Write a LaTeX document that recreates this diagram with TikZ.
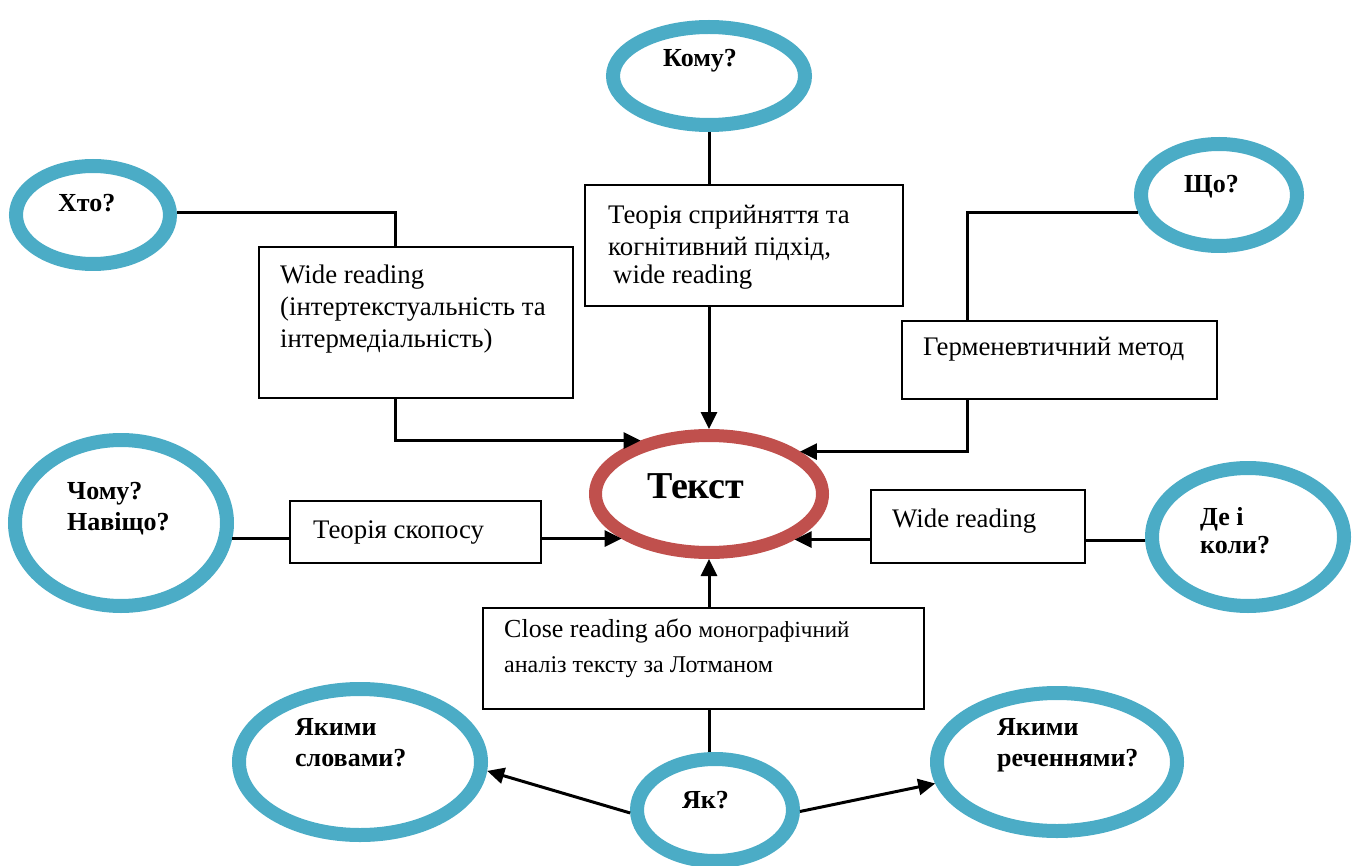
\documentclass[tikz,border=0pt]{standalone}
\usepackage{fontspec}
\setmainfont{Liberation Serif}
\usetikzlibrary{shapes.geometric,arrows.meta}
\definecolor{ringblue}{HTML}{4BACC6}
\definecolor{ringred}{HTML}{C0504D}
\newcommand\fst{\rule{0pt}{24pt}}
\tikzset{
  q/.style={ellipse, draw=ringblue, line width=14pt, inner sep=0pt},
  mainq/.style={ellipse, draw=ringred, line width=13pt, inner sep=0pt},
  box/.style={rectangle, draw=black, line width=1.5pt, inner sep=0pt},
  qtext/.style={anchor=north west, inner sep=0pt, align=left, font=\bfseries\fontsize{26}{31}\selectfont},
  qline/.style={anchor=base west, inner sep=0pt, font=\bfseries\fontsize{26}{31}\selectfont},
  btext/.style={anchor=north west, inner sep=0pt, align=left, font=\fontsize{26.8}{32}\selectfont},
  bline/.style={anchor=base west, inner sep=0pt, font=\fontsize{26.8}{32}\selectfont},
  conn/.style={line width=3pt},
  arr/.style={line width=3pt, -{Triangle[length=17pt,width=16pt]}},
}
\begin{document}
\begin{tikzpicture}[x=1pt,y=-1pt]
\useasboundingbox (0,0) rectangle (1359,866);

% ellipses
\node[q, minimum width=192pt, minimum height=98pt] (komu) at (709,76) {};
\node[q, minimum width=154pt, minimum height=98pt] (kto) at (93,215) {};
\node[q, minimum width=156pt, minimum height=102pt] (shcho) at (1219,195) {};
\node[q, minimum width=212pt, minimum height=166pt] (chomu) at (121,523) {};
\node[q, minimum width=192pt, minimum height=138pt] (dei) at (1248,537) {};
\node[q, minimum width=242pt, minimum height=146pt] (slova) at (360,762) {};
\node[q, minimum width=156pt, minimum height=102pt] (yak) at (715,810) {};
\node[q, minimum width=240pt, minimum height=138pt] (rech) at (1057,762) {};
\node[mainq, minimum width=227pt, minimum height=117pt] (tekst) at (709,494) {};

% boxes
\node[box, minimum width=314pt, minimum height=151pt] (box1) at (416,322.5) {};
\node[box, minimum width=318pt, minimum height=121pt] (box2) at (744,245.5) {};
\node[box, minimum width=315pt, minimum height=78pt] (germ) at (1059.5,360) {};
\node[box, minimum width=251pt, minimum height=62pt] (skopos) at (415.5,532) {};
\node[box, minimum width=214pt, minimum height=73pt] (wide2) at (978,526.5) {};
\node[box, minimum width=441pt, minimum height=101pt] (close) at (703.5,658.5) {};

% question labels
\node[qline] (komu-t) at (663,67) {Кому?};
\node[qline] (kto-t) at (58,212) {Хто?};
\node[qline] (shcho-t) at (1184,193) {Що?};
\node[qtext] (chomu-t) at (67,475) {\fst Чому?\\Навіщо?};
\node[qtext] (dei-t) at (1200,501) {\fst Де і\\[-3pt]коли?};
\node[qtext] (slova-t) at (295,711) {\fst Якими\\словами?};
\node[qline] (yak-t) at (682,808) {Як?};
\node[qtext] (rech-t) at (997,711) {\fst Якими\\реченнями?};
\node[anchor=base west, inner sep=0pt, font=\bfseries\fontsize{38}{44}\selectfont] (tekst-t) at (647,498) {Текст};

% box texts
\node[btext] (box1-t) at (280,259) {\fst Wide reading\\(інтертекстуальність та\\інтермедіальність)};
\node[btext] (box2-t) at (608,199) {\fst Теорія сприйняття та\\когнітивний підхід,\\[-4pt]\hspace*{5pt}wide reading};
\node[bline] (germ-t) at (923,355) {Герменевтичний метод};
\node[bline] (skopos-t) at (313,538) {Теорія скопосу};
\node[bline] (wide2-t) at (892,527) {Wide reading};
\node[btext, font=\fontsize{26}{32}\selectfont] (close-t) at (504,613) {\fst Close reading або {\fontsize{23}{32}\selectfont монографічний}\\[3pt]{\fontsize{24}{32}\selectfont аналіз тексту за Лотманом}};

% connectors
\draw[conn] (kto.2) -| ([xshift=137pt]box1.north west);
\draw[arr] ([xshift=137pt]box1.south west) |- (tekst.142);
\draw[conn] (komu.south) -- (komu.south |- box2.north);
\draw[arr] (box2.south -| tekst.north) -- (tekst.north);
\draw[conn] (shcho.192) -| ([xshift=66pt]germ.north west);
\draw[arr] ([xshift=66pt]germ.south west) |- (tekst.25);
\draw[conn] (chomu.-8) -- (chomu.-8 -| skopos.west);
\draw[arr] (skopos.east |- tekst.207) -- (tekst.207);
\draw[conn] (dei.182) -- (dei.182 -| wide2.east);
\draw[arr] (wide2.west |- tekst.332) -- (tekst.332);
\draw[arr] (close.north -| tekst.south) -- (tekst.south);
\draw[conn] (yak.north -| tekst.south) -- (close.south -| tekst.south);
\draw[arr] (yak.182) -- (slova.-4);
\draw[arr] (yak.-1) -- (rech.190);
\end{tikzpicture}
\end{document}
